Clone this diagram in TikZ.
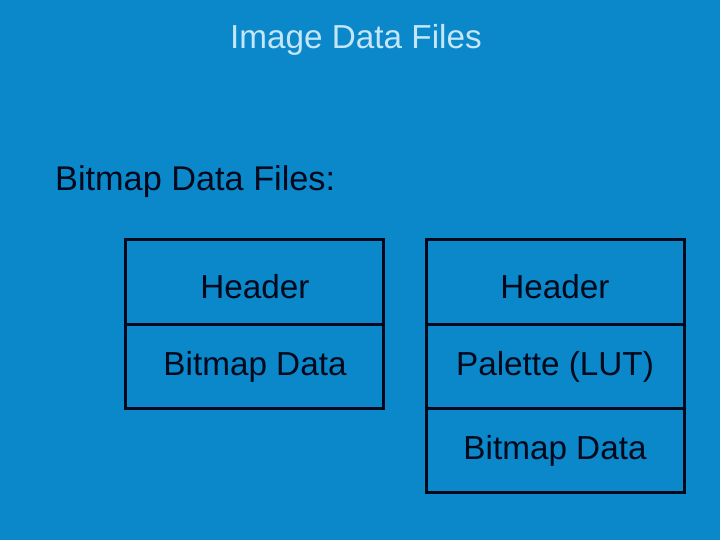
\documentclass[tikz,border=0pt]{standalone}
\usepackage{fontspec}
\setmainfont{Liberation Sans}
\definecolor{bgblue}{HTML}{0A88CA}
\definecolor{titlecol}{HTML}{C4E6F8}
\definecolor{ink}{HTML}{00091C}
\begin{document}
\begin{tikzpicture}[x=1bp,y=-1bp,
  cell/.style={draw=ink,line width=3bp,minimum width=258bp,minimum height=84bp,inner sep=0pt},
  txt/.style={inner sep=0pt,anchor=base,font=\fontsize{33.4}{40}\selectfont}]
\fill[bgblue] (0,0) rectangle (720,540);
\useasboundingbox (0,0) rectangle (720,540);
\node[txt,text=titlecol] (title) at (356,48.5) {Image Data Files};
\node[txt,text=ink,anchor=base west] (sub) at (55,190.5) {\fontsize{34.4}{40}\selectfont Bitmap Data Files:};
\node[cell] (l1) at (254.5,282) {};
\node[cell] (l2) at (254.5,366) {};
\node[cell] (r1) at (555,282) {};
\node[cell] (r2) at (555,366) {};
\node[cell] (r3) at (555,450) {};
\node[txt,text=ink] (l1t) at (255,298) {Header};
\node[txt,text=ink] (l2t) at (255,375) {Bitmap Data};
\node[txt,text=ink] (r1t) at (555,298) {Header};
\node[txt,text=ink] (r2t) at (555,375.5) {Palette (LUT)};
\node[txt,text=ink] (r3t) at (555,459.5) {Bitmap Data};
\end{tikzpicture}
\end{document}
